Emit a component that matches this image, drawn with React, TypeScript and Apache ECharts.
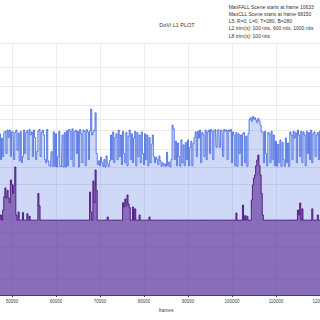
import React, { useEffect, useRef } from "react";
import * as echarts from "echarts";

// Sampling grid of frames (one sample every 250 frames)
const frameStart = 47000;
const frameStep = 250;

// L1 max_pq (12-bit PQ code) per sample
const maxPq: number[] = [
  2450, 2620, 2200, 2550, 2250, 2640, 2660, 2300, 2680, 2560,
  2680, 2250, 2650, 2660, 2200, 2640, 2680, 2350, 2630, 2180,
  2660, 2150, 2250, 2680, 2300, 2640, 2670, 2200, 2690, 2600,
  2650, 2250, 2680, 2560, 2200, 2330, 2660, 2690, 2250, 2640,
  2680, 2600, 2200, 2150, 2690, 2180, 2100, 2090, 2330, 2090,
  2650, 2090, 2620, 2080, 2250, 2660, 2090, 2080, 2600, 2080,
  2640, 2080, 2670, 2100, 2690, 2660, 2200, 2700, 2090, 2650,
  2680, 2300, 2660, 2080, 2690, 2620, 2150, 2680, 2660, 2100,
  2690, 2650, 2200, 2670, 3020, 2600, 2650, 2680, 2960, 2300,
  2120, 2180, 2100, 2240, 2150, 2090, 2200, 2080, 2260, 2130,
  2090, 2180, 2600, 2200, 2650, 2150, 2560, 2620, 2200, 2680,
  2250, 2600, 2120, 2660, 2300, 2150, 2640, 2100, 2580, 2680,
  2200, 2620, 2150, 2550, 2660, 2100, 2640, 2250, 2600, 2150,
  2650, 2300, 2120, 2620, 2200, 2600, 2100, 2560, 2150, 2450,
  2600, 2250, 2150, 2240, 2200, 2120, 2260, 2180, 2090, 2150,
  2100, 2130, 2090, 2320, 2100, 2160, 2080, 2200, 2760, 2700,
  2200, 2500, 2100, 2470, 2250, 2090, 2520, 2150, 2440, 2100,
  2480, 2200, 2520, 2100, 2400, 2500, 2100, 2460, 2560, 2650,
  2250, 2660, 2550, 2680, 2150, 2640, 2600, 2250, 2680, 2200,
  2650, 2680, 2300, 2690, 2660, 2200, 2680, 2690, 2400, 2680,
  2690, 2400, 2680, 2670, 2250, 2690, 2660, 2680, 2200, 2680,
  2660, 2690, 2150, 2650, 2600, 2100, 2640, 2090, 2620, 2300,
  2600, 2100, 2620, 2640, 2150, 2580, 2090, 2620, 2850, 2880,
  2820, 2900, 2860, 2880, 2840, 2800, 2870, 2830, 2760, 2650,
  2650, 2150, 2660, 2300, 2100, 2640, 2620, 2150, 2660, 2200,
  2600, 2100, 2500, 2090, 2450, 2150, 2520, 2090, 2480, 2200,
  2090, 2550, 2150, 2470, 2090, 2650, 2600, 2200, 2660, 2550,
  2640, 2150, 2680, 2600, 2250, 2660, 2150, 2650, 2600, 2100,
  2660, 2300, 2640, 2200, 2680, 2150, 2620, 2650, 2250, 2600,
  2640, 2200, 2660, 2300, 2600,
];

// L1 avg_pq (12-bit PQ code) per sample
const avgPq: number[] = [
  1215, 1215, 1300, 1215, 1380, 1600, 1740, 1576, 1700, 1576,
  1500, 1869, 1800, 1650, 1780, 2080, 1300, 1215, 1350, 1215,
  1215, 1215, 1340, 1215, 1215, 1215, 1320, 1215, 1280, 1215,
  1215, 1215, 1215, 1215, 1215, 1215, 1650, 1450, 1215, 1215,
  1215, 1215, 1215, 1215, 1215, 1215, 1215, 1215, 1215, 1215,
  1215, 1215, 1215, 1215, 1215, 1215, 1215, 1215, 1215, 1215,
  1215, 1215, 1215, 1215, 1215, 1215, 1215, 1215, 1215, 1215,
  1215, 1215, 1215, 1215, 1215, 1215, 1215, 1215, 1215, 1215,
  1215, 1215, 1215, 1674, 1350, 1215, 1853, 1500, 2031, 1700,
  1215, 1215, 1215, 1215, 1215, 1215, 1215, 1215, 1215, 1268,
  1215, 1215, 1215, 1215, 1215, 1215, 1215, 1215, 1215, 1215,
  1215, 1215, 1215, 1500, 1430, 1560, 1450, 1625, 1480, 1420,
  1215, 1215, 1430, 1215, 1400, 1215, 1215, 1215, 1300, 1215,
  1215, 1215, 1215, 1215, 1215, 1215, 1215, 1268, 1215, 1215,
  1215, 1215, 1215, 1215, 1215, 1215, 1215, 1215, 1215, 1215,
  1215, 1215, 1215, 1215, 1215, 1215, 1215, 1215, 1215, 1215,
  1215, 1215, 1215, 1215, 1215, 1215, 1215, 1215, 1215, 1215,
  1215, 1215, 1215, 1215, 1215, 1215, 1215, 1215, 1215, 1215,
  1215, 1215, 1215, 1215, 1215, 1215, 1215, 1215, 1215, 1215,
  1215, 1215, 1215, 1215, 1215, 1215, 1215, 1215, 1215, 1215,
  1215, 1215, 1215, 1215, 1215, 1215, 1215, 1215, 1215, 1215,
  1215, 1215, 1215, 1215, 1215, 1215, 1333, 1215, 1215, 1215,
  1215, 1215, 1463, 1215, 1290, 1215, 1280, 1215, 1215, 1215,
  1544, 1788, 1900, 1950, 2100, 2194, 2275, 2100, 1950, 1650,
  1300, 1215, 1215, 1215, 1215, 1215, 1215, 1215, 1215, 1215,
  1215, 1215, 1215, 1215, 1215, 1215, 1215, 1215, 1215, 1215,
  1215, 1215, 1215, 1215, 1215, 1215, 1215, 1215, 1215, 1215,
  1215, 1215, 1381, 1300, 1495, 1215, 1400, 1215, 1215, 1215,
  1215, 1215, 1215, 1215, 1215, 1400, 1215, 1215, 1215, 1215,
  1300, 1215, 1215, 1215, 1215,
];

// Horizontal grid lines (nits)
const gridNits: number[] = [0.1, 0.5, 2, 5, 10, 50, 100, 200, 400, 600, 1000, 2000, 4000, 10000];

const titleText = "DoVi L1 PLOT";
const infoLines: string[] = [
  "MaxFALL Scene starts at frame 10633",
  "MaxCLL Scene starts at frame 68150",
  "L5: R=0, L=0, T=280, B=280",
  "L2 trim(s): 100 nits, 600 nits, 1000 nits",
  "L8 trim(s): 100 nits",
];
const xName = "frames";

function pqCode(nits: number): number {
  const m1 = 2610 / 16384;
  const m2 = (2523 / 4096) * 128;
  const c1 = 3424 / 4096;
  const c2 = (2413 / 4096) * 32;
  const c3 = (2392 / 4096) * 32;
  const ym = Math.pow(nits / 10000, m1);
  return Math.pow((c1 + c2 * ym) / (1 + c3 * ym), m2) * 4095;
}

const OFFSET = 32; // div is shifted left so the chart is cropped like the reference

export default function App() {
  const ref = useRef<HTMLDivElement>(null);
  useEffect(() => {
    if (!ref.current) return;
    const chart = echarts.init(ref.current, undefined, { renderer: "svg" });
    const maxData = maxPq.map((v, i) => [frameStart + i * frameStep, v]);
    const avgData = avgPq.map((v, i) => [frameStart + i * frameStep, v]);
    const font = "'Liberation Sans', Arial, sans-serif";
    chart.setOption({
      animation: false,
      backgroundColor: "#ffffff",
      grid: { left: 0, right: 0, top: 43, bottom: 25, containLabel: false },
      xAxis: {
        type: "value",
        min: 40000,
        max: 130000,
        interval: 10000,
        name: xName,
        nameLocation: "middle",
        nameGap: 10.5,
        nameTextStyle: { fontSize: 4.8, color: "#444", fontFamily: font },
        axisLine: { show: true, lineStyle: { color: "#444", width: 1.2 } },
        axisTick: { show: true, length: 2, lineStyle: { color: "#444" } },
        axisLabel: {
          fontSize: 4.5,
          color: "#444",
          margin: 3.5,
          fontFamily: font,
          showMinLabel: false,
          showMaxLabel: false,
          formatter: (v: number) => String(v),
        },
        splitLine: { show: true, lineStyle: { color: "#ececec", width: 1 } },
      },
      yAxis: {
        type: "value",
        min: 0,
        max: 4095,
        axisLabel: { show: false },
        axisTick: { show: false },
        axisLine: { show: false },
        splitLine: { show: false },
      },
      graphic: [
        {
          type: "text",
          x: 177 + OFFSET,
          y: 25,
          style: {
            text: titleText,
            fontSize: 5.5,
            fill: "#333",
            fontFamily: font,
            align: "center",
            verticalAlign: "middle",
          },
        },
        ...infoLines.map((t, i) => ({
          type: "text",
          x: 228.7 + OFFSET,
          y: 6.7 + i * 7.2,
          style: {
            text: t,
            fontSize: 5,
            fill: "#333",
            fontFamily: font,
            align: "left",
            verticalAlign: "middle",
          },
        })),
      ],
      series: [
        {
          type: "line",
          data: [],
          z: 0,
          silent: true,
          markLine: {
            z: 0,
            silent: true,
            symbol: "none",
            label: { show: false },
            lineStyle: { color: "#eaeaea", width: 1, type: "solid" },
            data: gridNits.map((n) => ({ yAxis: pqCode(n) })),
          },
        },
        {
          type: "line",
          data: maxData,
          step: "middle",
          showSymbol: false,
          symbol: "none",
          z: 2,
          lineStyle: { color: "rgba(45,85,220,0.75)", width: 1 },
          areaStyle: { color: "rgba(65,105,225,0.25)", opacity: 1, origin: "start" },
        },
        {
          type: "line",
          data: avgData,
          step: "middle",
          showSymbol: false,
          symbol: "none",
          z: 3,
          lineStyle: { color: "rgba(70,10,120,0.85)", width: 1 },
          areaStyle: { color: "rgba(102,51,153,0.65)", opacity: 1, origin: "start" },
        },
      ],
    });
    return () => chart.dispose();
  }, []);
  return (
    <div
      ref={ref}
      style={{ position: "fixed", left: -OFFSET, top: 0, width: 396, height: 320 }}
    />
  );
}
